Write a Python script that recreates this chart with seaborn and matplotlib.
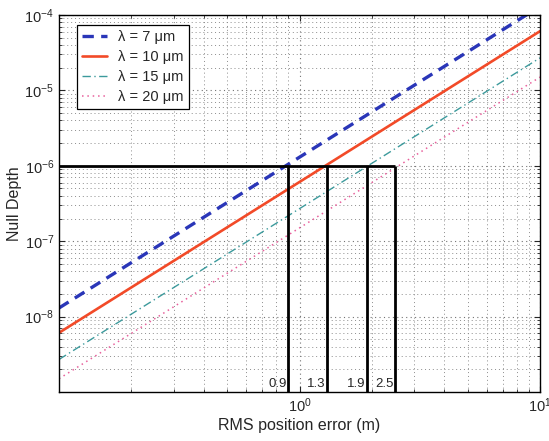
import numpy as np
import pandas as pd
import matplotlib
matplotlib.use("Agg")
import matplotlib.pyplot as plt
import seaborn as sns

# Data (log-log, slope 2)
x_err = [0.1, 1.0, 10.0]
null_7um = [1.3e-8, 1.3e-6, 1.3e-4]
null_10um = [6.1e-9, 6.1e-7, 6.1e-5]
null_15um = [2.7e-9, 2.7e-7, 2.7e-5]
null_20um = [1.5e-9, 1.5e-7, 1.5e-5]
series_labels = ["λ = 7 μm", "λ = 10 μm", "λ = 15 μm", "λ = 20 μm"]

req_null = 1e-6
req_errors = [0.9, 1.3, 1.9, 2.5]
req_labels = ["0.9", "1.3", "1.9", "2.5"]

sns.set_style("ticks")
plt.rcParams['font.family'] = ['Liberation Sans', 'DejaVu Sans']
plt.rcParams['mathtext.fontset'] = 'custom'
plt.rcParams['mathtext.rm'] = 'Liberation Sans'
plt.rcParams['mathtext.it'] = 'Liberation Sans'

fig = plt.figure(figsize=(5.49, 4.41), dpi=100)
ax = fig.add_axes([59/549, 1-392/441, 481/549, 377/441])

df = pd.DataFrame({
    "x": x_err * 4,
    "y": null_7um + null_10um + null_15um + null_20um,
    "s": sum([[l] * len(x_err) for l in series_labels], []),
})

styles = {
    series_labels[0]: dict(color="#2a36b8", ls=(0, (3.4, 2.2)), lw=2.4),
    series_labels[1]: dict(color="#f24a28", ls="-", lw=1.9),
    series_labels[2]: dict(color="#3c9a9c", ls=(0, (6, 2.5, 1, 2.5)), lw=1.0),
    series_labels[3]: dict(color="#e8609c", ls=(0, (1, 2.5)), lw=1.1),
}
for lab in series_labels:
    sub = df[df["s"] == lab]
    st = styles[lab]
    sns.lineplot(data=sub, x="x", y="y", ax=ax, color=st["color"],
                 linestyle=st["ls"], linewidth=st["lw"], label=lab)

ax.set_xscale("log")
ax.set_yscale("log")
ax.set_xlim(0.1, 10)
ax.set_ylim(1e-9, 1e-4)

# requirement lines
ax.plot([0.1, req_errors[-1]], [req_null, req_null], color="black", lw=2.0, solid_capstyle="butt")
for xe, lab in zip(req_errors, req_labels):
    ax.plot([xe, xe], [1e-9, req_null], color="black", lw=2.0, solid_capstyle="butt")
    ax.annotate(lab, xy=(xe, 1.0e-9), xytext=(-1, 1.5), textcoords="offset points",
                ha="right", va="bottom", fontsize=9.5)

ax.set_xticks([1, 10])
ax.set_xticklabels([r"$10^{0}$", r"$10^{1}$"])
ax.set_yticks([1e-8, 1e-7, 1e-6, 1e-5, 1e-4])
ax.set_yticklabels([r"$10^{-8}$", r"$10^{-7}$", r"$10^{-6}$", r"$10^{-5}$", r"$10^{-4}$"])
ax.tick_params(which="both", direction="in", top=True, right=True, labelsize=10.5)
ax.tick_params(which="major", length=4)
ax.tick_params(which="minor", length=2)
ax.grid(which="major", linestyle=(0, (1, 3)), color="0.45", linewidth=0.8)
ax.grid(which="minor", linestyle=(0, (1, 3)), color="0.55", linewidth=0.7)
for sp in ax.spines.values():
    sp.set_linewidth(1.0)
    sp.set_color("black")

ax.set_xlabel("RMS position error (m)", fontsize=11.5, labelpad=2)
ax.set_ylabel("Null Depth", fontsize=11.5, labelpad=2)

leg = ax.legend(loc="upper left", bbox_to_anchor=(0.037, 0.973), borderaxespad=0,
                fancybox=False, framealpha=1, edgecolor="black", fontsize=10.5,
                handlelength=1.7, labelspacing=0.4, borderpad=0.35)
leg.get_frame().set_linewidth(0.9)

fig.savefig("out.png", dpi=100)
